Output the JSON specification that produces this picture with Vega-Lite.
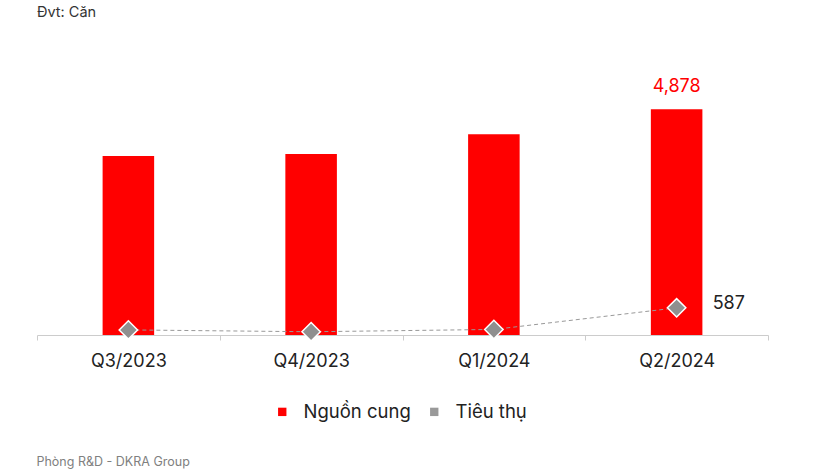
{
  "$schema": "https://vega.github.io/schema/vega-lite/v6.json",
  "description": "Nguon cung va tieu thu can ho",
  "width": 731,
  "height": 254.5,
  "autosize": {"type": "none"},
  "padding": {"left": 37, "top": 80.5, "right": 47, "bottom": 136},
  "background": "white",
  "title": {
    "text": "Đvt: Căn",
    "anchor": "start",
    "frame": "group",
    "offset": 58,
    "font": "Inter",
    "fontSize": 14.5,
    "fontWeight": "normal",
    "color": "#333333"
  },
  "data": {
    "values": [
      {"quarter": "Q3/2023", "series": "Nguồn cung", "value": 3869},
      {"quarter": "Q4/2023", "series": "Nguồn cung", "value": 3912},
      {"quarter": "Q1/2024", "series": "Nguồn cung", "value": 4338},
      {"quarter": "Q2/2024", "series": "Nguồn cung", "value": 4878},
      {"quarter": "Q3/2023", "series": "Tiêu thụ", "value": 110},
      {"quarter": "Q4/2023", "series": "Tiêu thụ", "value": 70},
      {"quarter": "Q1/2024", "series": "Tiêu thụ", "value": 120},
      {"quarter": "Q2/2024", "series": "Tiêu thụ", "value": 587}
    ]
  },
  "encoding": {
    "x": {
      "field": "quarter",
      "type": "nominal",
      "sort": ["Q3/2023", "Q4/2023", "Q1/2024", "Q2/2024"],
      "scale": {"paddingInner": 0, "paddingOuter": 0},
      "axis": {
        "title": "Phòng R&D - DKRA Group",
        "titleAnchor": "start",
        "titleAlign": "left",
        "titleBaseline": "middle",
        "titleX": -1,
        "titleY": 126,
        "titleFont": "Inter",
        "titleFontSize": 12.5,
        "titleFontWeight": "normal",
        "titleColor": "#808080",
        "labelAngle": 0,
        "labelFont": "Inter",
        "labelFontSize": 18,
        "labelColor": "#222222",
        "labelPadding": 12,
        "tickBand": "extent",
        "tickSize": 5,
        "tickColor": "#cccccc",
        "domainColor": "#cccccc",
        "grid": false
      }
    },
    "y": {
      "field": "value",
      "type": "quantitative",
      "scale": {"domain": [0, 5500]},
      "axis": null
    },
    "color": {
      "field": "series",
      "type": "nominal",
      "scale": {"domain": ["Nguồn cung", "Tiêu thụ"], "range": ["#ff0000", "#999999"]},
      "legend": {
        "title": null,
        "orient": "none",
        "direction": "horizontal",
        "legendX": 236,
        "legendY": 322,
        "symbolType": "square",
        "symbolSize": 70,
        "symbolStrokeWidth": 0,
        "labelFont": "Inter",
        "labelFontSize": 18.5,
        "labelColor": "#222222",
        "labelOffset": 12,
        "columnPadding": 14
      }
    }
  },
  "layer": [
    {
      "transform": [{"filter": "datum.series == 'Nguồn cung'"}],
      "mark": {"type": "bar", "width": {"band": 0.282}}
    },
    {
      "transform": [{"filter": "datum.series == 'Nguồn cung' && datum.quarter == 'Q2/2024'"}],
      "mark": {"type": "text", "dy": -22, "font": "Inter", "fontSize": 18, "color": "#ff0000"},
      "encoding": {
        "text": {"field": "value", "type": "quantitative", "format": ","},
        "color": {"value": "#ff0000"}
      }
    },
    {
      "transform": [{"filter": "datum.series == 'Tiêu thụ'"}],
      "mark": {"type": "line", "strokeWidth": 1, "strokeDash": [4, 3], "color": "#999999"},
      "encoding": {"color": {"value": "#999999"}}
    },
    {
      "transform": [{"filter": "datum.series == 'Tiêu thụ'"}],
      "mark": {"type": "point", "shape": "diamond", "filled": true, "size": 340, "stroke": "white", "strokeWidth": 1.5, "opacity": 1},
      "encoding": {"fill": {"value": "#8f8f8f"}, "color": {"value": "#8f8f8f"}}
    },
    {
      "transform": [{"filter": "datum.series == 'Tiêu thụ' && datum.quarter == 'Q2/2024'"}],
      "mark": {"type": "text", "align": "left", "dx": 36, "dy": -4, "font": "Inter", "fontSize": 18, "color": "#222222"},
      "encoding": {
        "text": {"field": "value", "type": "quantitative", "format": ","},
        "color": {"value": "#222222"}
      }
    }
  ],
  "config": {"view": {"stroke": null}}
}
